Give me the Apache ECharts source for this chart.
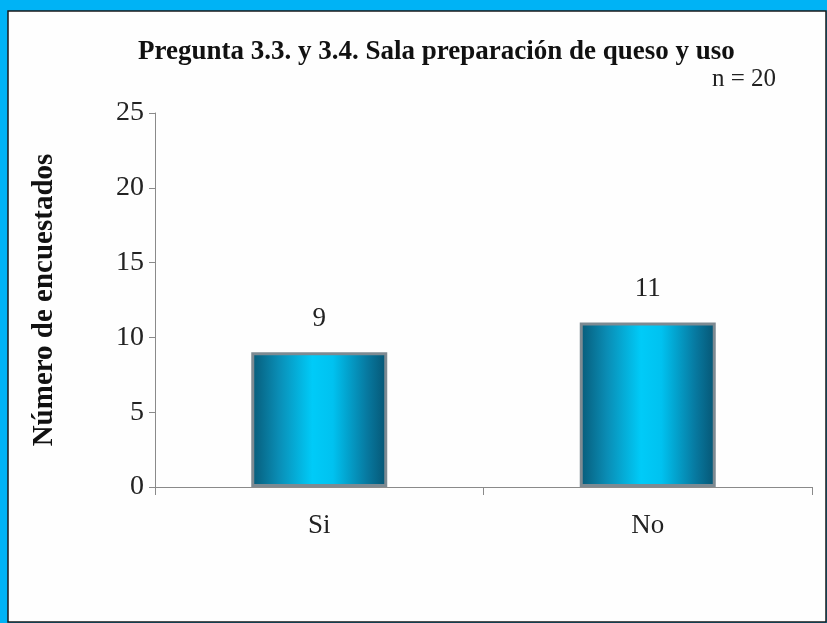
<!DOCTYPE html>
<html>
<head>
<meta charset="utf-8">
<script src="https://cdn.jsdelivr.net/npm/echarts@6/dist/echarts.min.js"></script>
<style>
  html, body { margin: 0; padding: 0; }
  #chart { width: 827px; height: 623px; }
</style>
</head>
<body>
<div id="chart"></div>
<script>
// datos del grafico
const categories = ['Si', 'No']
const respondents = [9, 11]
const yTicks = [0, 5, 10, 15, 20, 25]
const sampleNote = 'n = 20'

const serif = '"Liberation Serif", "DejaVu Serif", serif'

const barFill = new echarts.graphic.LinearGradient(0, 0, 1, 0, [
  { offset: 0, color: '#075a78' },
  { offset: 0.2, color: '#0a8db5' },
  { offset: 0.45, color: '#00cbf8' },
  { offset: 0.6, color: '#00c2f0' },
  { offset: 0.85, color: '#0779a0' },
  { offset: 1, color: '#065472' }
])

const chart = echarts.init(document.getElementById('chart'))

chart.setOption({
  backgroundColor: '#00b3f5',
  animation: false,
  graphic: [
    {
      type: 'rect',
      z: -10,
      shape: { x: 8, y: 11, width: 818, height: 611 },
      style: { fill: '#fefefe', stroke: '#1a1a1a', lineWidth: 1.5 }
    }
  ],
  title: [
    {
      text: 'Pregunta 3.3. y 3.4. Sala preparación de queso y uso',
      left: 133,
      top: 34,
      textStyle: { fontFamily: serif, fontSize: 27, fontWeight: 'bold', color: '#111' }
    },
    {
      text: sampleNote,
      left: 707,
      top: 62,
      textStyle: { fontFamily: serif, fontSize: 25, fontWeight: 'normal', color: '#222' }
    }
  ],
  grid: { left: 155, right: 15, top: 113, bottom: 136 },
  xAxis: {
    type: 'category',
    data: categories,
    axisLine: { lineStyle: { color: '#8a8a8a', width: 1 } },
    axisTick: { show: true, length: 8, lineStyle: { color: '#8a8a8a' } },
    axisLabel: { fontFamily: serif, fontSize: 27, color: '#222', margin: 25 }
  },
  yAxis: {
    type: 'value',
    min: yTicks[0],
    max: yTicks[yTicks.length - 1],
    interval: yTicks[1] - yTicks[0],
    name: 'Número de encuestados',
    nameLocation: 'middle',
    nameGap: 96,
    nameTextStyle: { fontFamily: serif, fontSize: 29, fontWeight: 'bold', color: '#111' },
    axisLine: { show: true, lineStyle: { color: '#8a8a8a', width: 1 } },
    axisTick: { show: true, length: 6, lineStyle: { color: '#8a8a8a' } },
    axisLabel: { fontFamily: serif, fontSize: 28, color: '#222', margin: 11 },
    splitLine: { show: false }
  },
  series: [
    {
      type: 'bar',
      data: respondents,
      barWidth: 136,
      itemStyle: {
        color: barFill,
        borderColor: '#7d8a92',
        borderWidth: 3
      },
      label: {
        show: true,
        position: 'top',
        distance: 20,
        fontFamily: serif,
        fontSize: 27,
        color: '#222'
      }
    }
  ]
})
</script>
</body>
</html>
